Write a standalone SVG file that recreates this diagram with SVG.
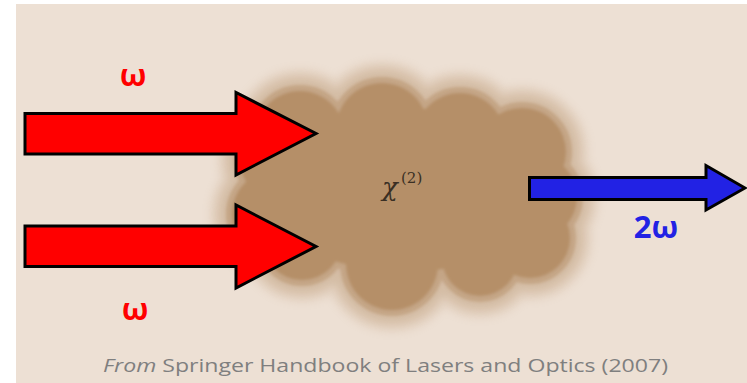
<svg xmlns="http://www.w3.org/2000/svg" width="747" height="383" viewBox="0 0 747 383">
<style>
.arrow{stroke:#000;stroke-width:3;stroke-linejoin:miter}
.red{fill:#ff0000}
.blue{fill:#2222e4}
.omega{font-family:"Open Sans","Liberation Sans",sans-serif;font-weight:bold;font-size:31px;text-anchor:middle}
.chi{font-family:"DejaVu Serif","Liberation Serif",serif;fill:#3a2f24}
.cap{font-family:"Open Sans","Liberation Sans",sans-serif;font-size:19px;fill:#7f7f7f}
.lobe{fill:#b58f68;stroke:#b58f68}
</style>
<defs>
<filter id="halo" x="-20%" y="-20%" width="140%" height="140%">
<feGaussianBlur stdDeviation="4"/>
</filter>
<filter id="edge" x="-10%" y="-10%" width="120%" height="120%">
<feGaussianBlur stdDeviation="1.5"/>
</filter>
<g id="cloudshape">
<ellipse cx="405" cy="190" rx="140" ry="82"/>
<circle cx="300" cy="136" r="45"/>
<circle cx="382" cy="129" r="46"/>
<circle cx="460" cy="138" r="45"/>
<circle cx="522" cy="152" r="44"/>
<circle cx="535" cy="197" r="42"/>
<circle cx="530" cy="238" r="40"/>
<circle cx="480" cy="258" r="38"/>
<circle cx="392" cy="264" r="46"/>
<circle cx="302" cy="240" r="40"/>
<circle cx="276" cy="214" r="44"/>
<circle cx="282" cy="160" r="42"/>
</g>
</defs>
<rect x="0" y="0" width="747" height="383" fill="#ffffff"/>
<rect x="16" y="4" width="731" height="379" fill="#ede0d4"/>
<g id="medium">
<g class="lobe" stroke-width="44" opacity="0.18" filter="url(#halo)"><use href="#cloudshape"/></g>
<g class="lobe" stroke-width="28" opacity="0.3" filter="url(#halo)"><use href="#cloudshape"/></g>
<g class="lobe" stroke-width="12" opacity="0.5" filter="url(#edge)"><use href="#cloudshape"/></g>
<g class="lobe" stroke-width="0" filter="url(#edge)"><use href="#cloudshape"/></g>
<text class="chi" x="382" y="196" font-size="26" font-style="italic">χ</text>
<text class="chi" x="401" y="183" font-size="15">(2)</text>
</g>
<g id="connectors">
<polygon id="input-top" class="arrow red" points="25,113.5 236,113.5 236,92.5 316,133.5 236,175 236,154 25,154"/>
<polygon id="input-bottom" class="arrow red" points="25,226 236,226 236,205 316,246.5 236,288 236,266.5 25,266.5"/>
<polygon id="output" class="arrow blue" points="529.5,177.5 706,177.5 706,165.5 745,188 706,210 706,199.5 529.5,199.5"/>
</g>
<g id="labels">
<text class="omega" x="133" y="86" fill="#ff0000">ω</text>
<text class="omega" x="135" y="320" fill="#ff0000">ω</text>
<text class="omega" x="656" y="238" fill="#2222e4">2ω</text>
</g>
<text class="cap" x="103" y="372" textLength="565" lengthAdjust="spacingAndGlyphs"><tspan font-style="italic">From</tspan> Springer Handbook of Lasers and Optics (2007)</text>
</svg>
